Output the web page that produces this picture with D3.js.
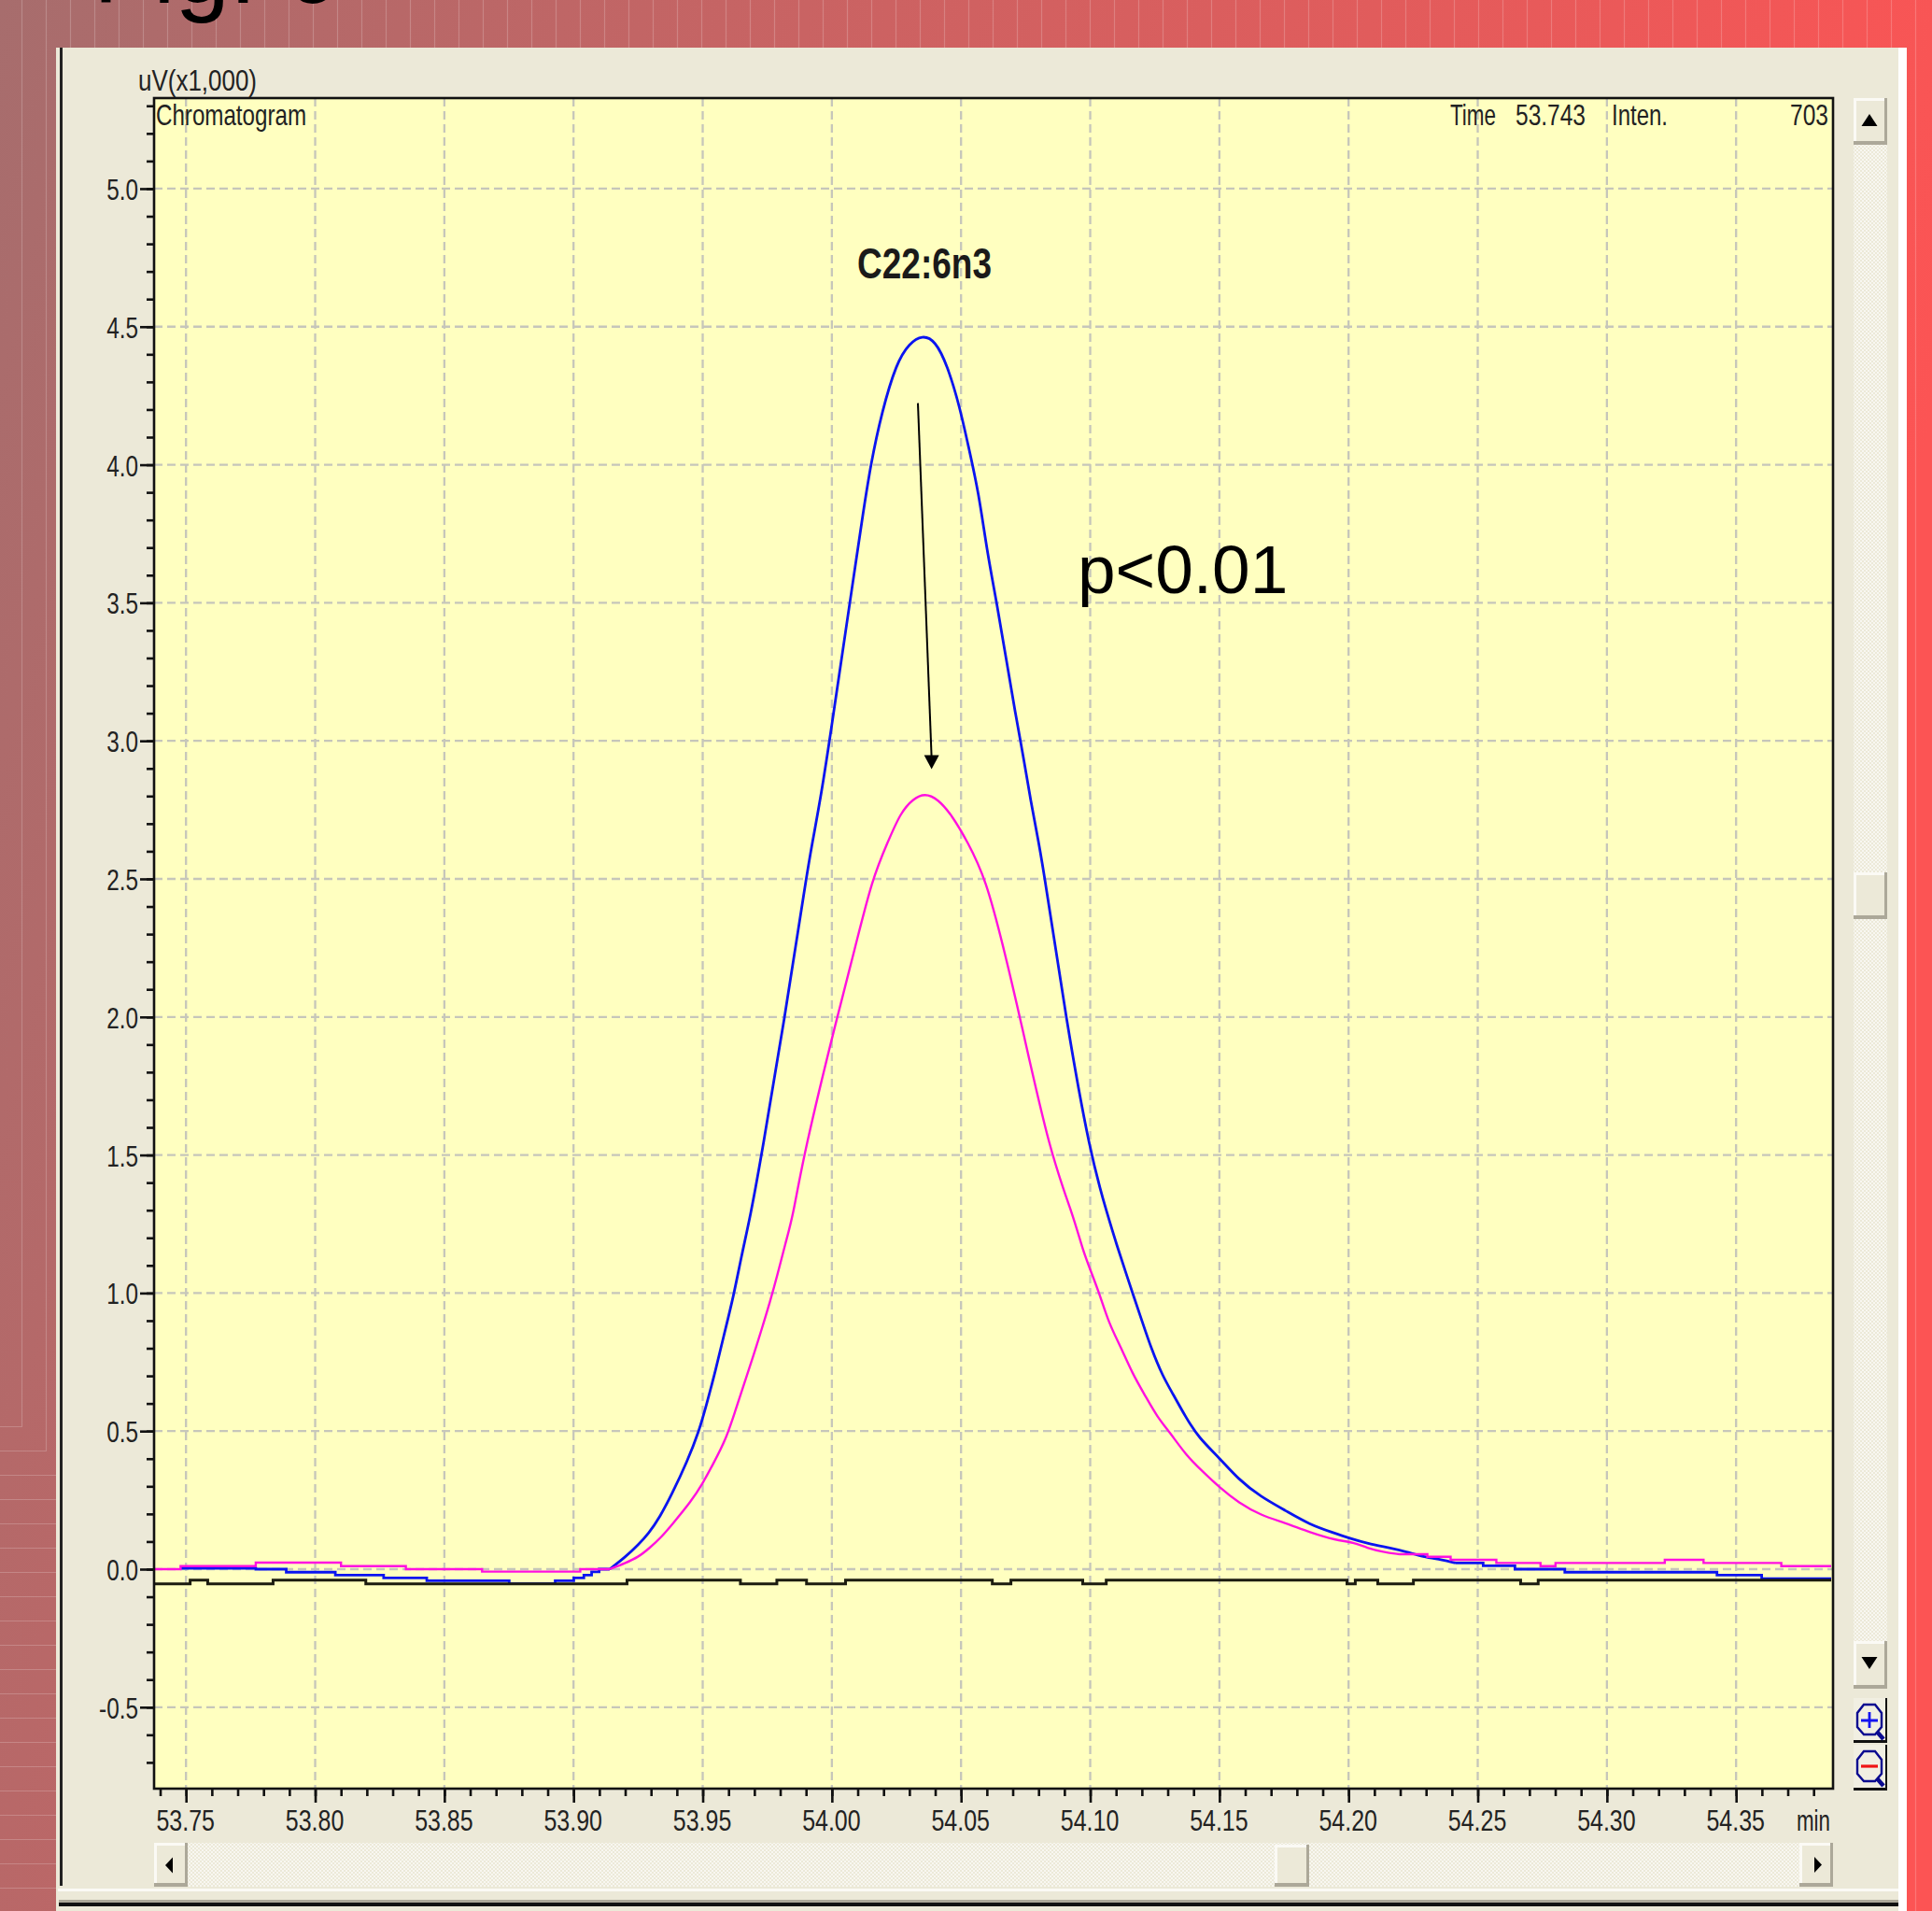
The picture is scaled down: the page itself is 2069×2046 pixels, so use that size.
<!DOCTYPE html>
<html>
<head>
<meta charset="utf-8">
<script src="https://cdnjs.cloudflare.com/ajax/libs/d3/7.8.5/d3.min.js"></script>
<style>
  html, body { margin: 0; padding: 0; background: #f95555; overflow: hidden; }
  svg { display: block; }
  text { font-family: "Liberation Sans", Arial, sans-serif; }
</style>
</head>
<body>
<svg width="2069" height="2046"></svg>
<script>
// chromatogram traces (min, uV x1000)
const blueTime = [53.7479, 53.777, 53.777, 53.7888, 53.7888, 53.8078, 53.8078, 53.8265, 53.8265, 53.8432, 53.8432, 53.8751, 53.8751, 53.8929, 53.8929, 53.9001, 53.9001, 53.904, 53.904, 53.907, 53.907, 53.9099, 53.9099, 53.914,
  53.92, 53.925, 53.929, 53.9335, 53.938, 53.944, 53.9486, 53.9516, 53.955, 53.958, 53.962, 53.965, 53.9685, 53.9728, 53.9818, 53.99, 53.9924, 53.9958, 53.9994, 54.003, 54.006, 54.009, 54.012, 54.015, 54.0193, 54.025, 54.03, 54.035, 54.04, 54.0447, 54.0495, 54.053, 54.0568, 54.06, 54.064, 54.0676, 54.071, 54.074, 54.077, 54.08, 54.0825, 54.0905, 54.1, 54.1068, 54.1104, 54.114, 54.1164, 54.12, 54.1237, 54.128, 54.132, 54.137, 54.142, 54.15, 54.1575, 54.166, 54.1756, 54.185, 54.1937, 54.201, 54.2071, 54.2161, 54.2224, 54.2288, 54.236, 54.2414, 54.2521, 54.2521, 54.2644, 54.2644, 54.2837, 54.2837, 54.3426, 54.3426, 54.3599, 54.3599, 54.3868];
const blueInten = [0.003, 0.003, 0, 0, -0.011, -0.011, -0.0214, -0.0214, -0.032, -0.032, -0.042, -0.042, -0.053, -0.053, -0.042, -0.042, -0.032, -0.032, -0.0214, -0.0214, -0.01, -0.01, 0, 0,
  0.043, 0.088, 0.128, 0.19, 0.27, 0.39, 0.5, 0.6, 0.72, 0.84, 0.99, 1.135, 1.28, 1.5, 2.0, 2.5, 2.63, 2.8, 3.02, 3.25, 3.44, 3.63, 3.82, 4.0, 4.19, 4.37, 4.44, 4.47, 4.45, 4.36, 4.21, 4.06, 3.9, 3.69, 3.49, 3.29, 3.1, 2.95, 2.78, 2.635, 2.5, 2.0, 1.5, 1.28, 1.17, 1.068, 1.0, 0.9, 0.797, 0.7, 0.635, 0.55, 0.476, 0.403, 0.324, 0.262, 0.212, 0.161, 0.133, 0.11, 0.0935, 0.0766, 0.063, 0.045, 0.034, 0.0225, 0.0225, 0.0124, 0.0124, 0, 0, -0.011, -0.011, -0.0214, -0.0214, -0.034, -0.034];

const pinkTime = [53.7377, 53.7479, 53.7479, 53.777, 53.777, 53.81, 53.81, 53.8351, 53.8351, 53.8646, 53.8646, 53.9026, 53.9026, 53.914,
  53.92, 53.925, 53.9295, 53.934, 53.938, 53.9455, 53.95, 53.954, 53.959, 53.9625, 53.966, 53.9697, 53.9727, 53.976, 53.979, 53.982, 53.985, 53.989, 54.002, 54.009, 54.0156, 54.0217, 54.0266, 54.0314, 54.036, 54.041, 54.0465, 54.0525, 54.0596, 54.0665, 54.0728, 54.0846, 54.0935, 54.097, 54.1007, 54.1037, 54.1074, 54.1116, 54.1164, 54.1213, 54.126, 54.131, 54.137, 54.143, 54.15, 54.1575, 54.166, 54.1756, 54.185, 54.195, 54.202, 54.2071, 54.2134, 54.2197, 54.2305, 54.2305, 54.2395, 54.2395, 54.2572, 54.2572, 54.2743, 54.2743, 54.2801, 54.2801, 54.3224, 54.3224, 54.3374, 54.3374, 54.3675, 54.3675, 54.3868];
const pinkInten = [0, 0, 0.011, 0.011, 0.0236, 0.0236, 0.011, 0.011, 0, 0, -0.009, -0.009, 0, 0,
  0.022, 0.043, 0.077, 0.116, 0.16, 0.245, 0.31, 0.38, 0.47, 0.57, 0.67, 0.775, 0.865, 0.966, 1.068, 1.18, 1.28, 1.5, 2.0, 2.25, 2.5, 2.635, 2.74, 2.79, 2.81, 2.79, 2.73, 2.635, 2.5, 2.25, 2.0, 1.5, 1.28, 1.158, 1.068, 0.994, 0.887, 0.809, 0.707, 0.628, 0.55, 0.493, 0.414, 0.358, 0.296, 0.24, 0.195, 0.167, 0.133, 0.105, 0.097, 0.0766, 0.062, 0.054, 0.054, 0.045, 0.045, 0.034, 0.034, 0.0225, 0.0225, 0.011, 0.011, 0.0225, 0.0225, 0.034, 0.034, 0.0225, 0.0225, 0.011, 0.011];

const baseTime = [53.7377, 53.7516, 53.7516, 53.7584, 53.7584, 53.7837, 53.7837, 53.8196, 53.8196, 53.9207, 53.9207, 53.9646, 53.9646, 53.9787, 53.9787, 53.9902, 53.9902, 54.0053, 54.0053, 54.0621, 54.0621, 54.0693, 54.0693, 54.0971, 54.0971, 54.1062, 54.1062, 54.1994, 54.1994, 54.2026, 54.2026, 54.2113, 54.2113, 54.2251, 54.2251, 54.2666, 54.2666, 54.2734, 54.2734, 54.3868];
const baseInten = [-0.053, -0.053, -0.04, -0.04, -0.053, -0.053, -0.04, -0.04, -0.053, -0.053, -0.04, -0.04, -0.053, -0.053, -0.04, -0.04, -0.053, -0.053, -0.04, -0.04, -0.053, -0.053, -0.04, -0.04, -0.053, -0.053, -0.04, -0.04, -0.053, -0.053, -0.04, -0.04, -0.053, -0.053, -0.04, -0.04, -0.053, -0.053, -0.04, -0.04];

const timeTicks = [53.75, 53.80, 53.85, 53.90, 53.95, 54.00, 54.05, 54.10, 54.15, 54.20, 54.25, 54.30, 54.35];
const intenTicks = [-0.5, 0, 0.5, 1.0, 1.5, 2.0, 2.5, 3.0, 3.5, 4.0, 4.5, 5.0];
const timeMinor = d3.range(0, 65).map(i => 53.74 + i * 0.01);
const intenMinor = d3.range(0, 61).map(i => -0.7 + i * 0.1);
const arrowTime = [54.0333, 54.0386];
const arrowInten = [4.223, 2.897];

const svg = d3.select("svg");
const width = +svg.attr("width"), height = +svg.attr("height");
const plot = { left: 165, right: 1963, top: 105, bottom: 1915 };

const x = d3.scaleLinear().domain([53.73764, 54.38752]).range([plot.left, plot.right]);
const y = d3.scaleLinear().domain([-0.795, 5.328]).range([plot.bottom, plot.top]);

// squeeze text sideways, the old screen font is narrow
function squeeze(sel, k) {
  sel.each(function() {
    const len = this.getComputedTextLength();
    d3.select(this).attr("textLength", len * k).attr("lengthAdjust", "spacingAndGlyphs");
  });
}

const defs = svg.append("defs");
const grad = defs.append("linearGradient").attr("id", "bg")
  .attr("gradientUnits", "userSpaceOnUse")
  .attr("x1", 0).attr("y1", 0).attr("x2", width).attr("y2", 450);
grad.append("stop").attr("offset", 0).attr("stop-color", "#a76d6d");
grad.append("stop").attr("offset", 1).attr("stop-color", "#fc5454");
const pat = defs.append("pattern").attr("id", "dither")
  .attr("width", 4).attr("height", 4).attr("patternUnits", "userSpaceOnUse");
pat.append("rect").attr("width", 4).attr("height", 4).attr("fill", "#ecE9d8");
pat.append("rect").attr("width", 2).attr("height", 2).attr("fill", "#f8f7f1");
pat.append("rect").attr("x", 2).attr("y", 2).attr("width", 2).attr("height", 2).attr("fill", "#f8f7f1");

// slide background
svg.append("rect").attr("width", width).attr("height", height).attr("fill", "url(#bg)");
const bgLines = svg.append("g").attr("stroke", "#fff").attr("stroke-opacity", 0.2).attr("stroke-width", 1.2).attr("fill", "none");
d3.range(0, 79).forEach(k => {
  const lx = 23.5 + 26 * k, ly = 1527.5 + 26 * k;
  bgLines.append("path").attr("d", `M${lx},0V${ly}H0`);
});

svg.append("text").attr("x", 100).attr("y", 3).attr("font-size", 105).attr("fill", "#000").text("Fig. 6");

// software window
svg.append("rect").attr("x", 2033).attr("y", 51).attr("width", 9).attr("height", height - 51).attr("fill", "#fff");
svg.append("rect").attr("x", 60).attr("y", 51).attr("width", 1973).attr("height", height - 51).attr("fill", "#ece9d8");
svg.append("rect").attr("x", 64).attr("y", 51).attr("width", 3).attr("height", 1968).attr("fill", "#222");
svg.append("rect").attr("x", 62).attr("y", 2022).attr("width", 1971).attr("height", 3).attr("fill", "#fbfaf5");
svg.append("rect").attr("x", 63).attr("y", 2034).attr("width", 1970).attr("height", 3).attr("fill", "#aca899");
svg.append("rect").attr("x", 63).attr("y", 2037).attr("width", 1970).attr("height", 4).attr("fill", "#111");

svg.append("rect").attr("x", plot.left).attr("y", plot.top)
  .attr("width", plot.right - plot.left).attr("height", plot.bottom - plot.top).attr("fill", "#ffffc0");

// dashed grid
const grid = svg.append("g").attr("stroke", "#c6c6ba").attr("stroke-width", 2.3).attr("stroke-dasharray", "9,5");
grid.selectAll(".gx").data(timeTicks).enter().append("line")
  .attr("x1", d => x(d)).attr("x2", d => x(d)).attr("y1", plot.top).attr("y2", plot.bottom);
grid.selectAll(".gy").data(intenTicks).enter().append("line")
  .attr("x1", plot.left).attr("x2", plot.right).attr("y1", d => y(d)).attr("y2", d => y(d));

// traces: stepped flat parts stay linear, the peak itself is smoothed
const lineStep = d3.line().x(d => x(d[0])).y(d => y(d[1]));
const linePeak = d3.line().x(d => x(d[0])).y(d => y(d[1])).curve(d3.curveBasis);
function drawTrace(t, v, color, w, from, to) {
  const pts = t.map((d, i) => [d, v[i]]);
  const before = pts.filter(p => p[0] <= from);
  const peak = pts.filter(p => p[0] >= from && p[0] <= to);
  const after = pts.filter(p => p[0] >= to);
  svg.append("path")
    .attr("d", lineStep(before) + linePeak(peak) + lineStep(after))
    .attr("fill", "none").attr("stroke", color).attr("stroke-width", w);
}
drawTrace(blueTime, blueInten, "#0a14f0", 2.8, 53.914, 54.2414);
drawTrace(pinkTime, pinkInten, "#ff10e0", 2.4, 53.914, 54.2197);
svg.append("path")
  .attr("d", lineStep(baseTime.map((d, i) => [d, baseInten[i]])))
  .attr("fill", "none").attr("stroke", "#1c1c10").attr("stroke-width", 3);

// axes
const axisStyle = g => {
  g.select(".domain").remove();
  g.selectAll("line").attr("stroke", "#111").attr("stroke-width", 2.6);
};
svg.append("g").attr("transform", `translate(0,${plot.bottom})`)
  .call(d3.axisBottom(x).tickValues(timeMinor.filter(d => d < 54.387)).tickSize(8).tickFormat(""))
  .call(axisStyle);
const xAxis = svg.append("g").attr("transform", `translate(0,${plot.bottom})`)
  .call(d3.axisBottom(x).tickValues(timeTicks).tickSize(15).tickFormat(d3.format(".2f")))
  .call(axisStyle);
xAxis.selectAll("text").attr("y", 45).attr("dy", 0).attr("dx", -1).attr("font-size", 32).attr("fill", "#222")
  .style("font-family", "'Liberation Sans'").call(squeeze, 0.78);

svg.append("g").attr("transform", `translate(${plot.left},0)`)
  .call(d3.axisLeft(y).tickValues(intenMinor).tickSize(8).tickFormat(""))
  .call(axisStyle);
const yAxis = svg.append("g").attr("transform", `translate(${plot.left},0)`)
  .call(d3.axisLeft(y).tickValues(intenTicks).tickSize(15).tickFormat(d => d3.format(".1f")(d).replace("\u2212", "-")))
  .call(axisStyle);
yAxis.selectAll("text").attr("x", -17).attr("dy", "0.36em").attr("font-size", 32).attr("fill", "#222")
  .style("font-family", "'Liberation Sans'").call(squeeze, 0.76);

svg.append("rect").attr("x", plot.left).attr("y", plot.top)
  .attr("width", plot.right - plot.left).attr("height", plot.bottom - plot.top)
  .attr("fill", "none").attr("stroke", "#111").attr("stroke-width", 2.6);

// window captions
const caption = (txt, px, py, len) => svg.append("text").attr("x", px).attr("y", py)
  .attr("font-size", 32).attr("fill", "#222").attr("textLength", len)
  .attr("lengthAdjust", "spacingAndGlyphs").text(txt);
caption("uV(x1,000)", 148, 97, 127);
caption("Chromatogram", 167, 134, 161);
caption("Time", 1553, 134, 49);
caption("53.743", 1623, 134, 75);
caption("Inten.", 1726, 134, 60);
caption("703", 1917, 134, 41);
caption("min", 1924, 1960, 36);

// annotations pasted on the slide
svg.append("text").attr("x", 918).attr("y", 298).attr("font-size", 47).attr("font-weight", "bold")
  .attr("fill", "#1a1a1a").attr("textLength", 144).attr("lengthAdjust", "spacingAndGlyphs").text("C22:6n3");
svg.append("text").attr("x", 1154).attr("y", 635).attr("font-size", 73).attr("fill", "#000").text("p<0.01");

const ax0 = x(arrowTime[0]), ay0 = y(arrowInten[0]), ax1 = x(arrowTime[1]), ay1 = y(arrowInten[1]);
svg.append("line").attr("x1", ax0).attr("y1", ay0).attr("x2", ax1).attr("y2", ay1 - 12)
  .attr("stroke", "#000").attr("stroke-width", 2);
svg.append("path").attr("d", `M${ax1},${ay1}l-8,-15h16z`).attr("fill", "#000");

// scrollbars
function button(bx, by, w, h) {
  const b = svg.append("g").attr("transform", `translate(${bx},${by})`);
  b.append("rect").attr("width", w).attr("height", h).attr("fill", "#aca899");
  b.append("rect").attr("x", 0).attr("y", 0).attr("width", w - 3).attr("height", h - 4).attr("fill", "#fbfaf5");
  b.append("rect").attr("x", 3).attr("y", 3).attr("width", w - 6).attr("height", h - 7).attr("fill", "#ece9d8");
  return b;
}
svg.append("rect").attr("x", 201).attr("y", 1973).attr("width", 1726).attr("height", 47).attr("fill", "url(#dither)");
svg.append("rect").attr("x", 1985).attr("y", 155).attr("width", 36).attr("height", 1602).attr("fill", "url(#dither)");

button(165, 1973, 36, 47).append("path").attr("d", "M12,24l8,-8.5v17z").attr("fill", "#000");
button(1927, 1973, 36, 47).append("path").attr("d", "M24,23.5l-8,-8.5v17z").attr("fill", "#000");
button(1365, 1975, 37, 45);
button(1985, 105, 36, 50).append("path").attr("d", "M17,17l-8.5,13h17z").attr("fill", "#000");
button(1985, 1757, 36, 51).append("path").attr("d", "M17,30l-8.5,-13h17z").attr("fill", "#000");
button(1985, 934, 36, 50);

// zoom buttons
function zoomButton(by, h, mark) {
  const b = svg.append("g").attr("transform", `translate(1985,${by})`);
  b.append("rect").attr("width", 36).attr("height", h).attr("fill", "#111");
  b.append("rect").attr("width", 34).attr("height", h - 3).attr("fill", "#f1efe2");
  b.append("path").attr("d", "M11,7h12l7,9v15l-7,8h-12l-7,-8v-15z").attr("fill", "none").attr("stroke", "#0a0a90").attr("stroke-width", 2.4);
  b.append("path").attr("d", "M25,36l7,8").attr("stroke", "#0a0a90").attr("stroke-width", 4.5);
  mark(b);
}
zoomButton(1818, 48, b => b.append("path").attr("d", "M8,24h18M17,15v17").attr("stroke", "#1414f0").attr("stroke-width", 2.8));
zoomButton(1868, 49, b => b.append("path").attr("d", "M8,23h18").attr("stroke", "#f01414").attr("stroke-width", 3.2));
</script>
</body>
</html>
